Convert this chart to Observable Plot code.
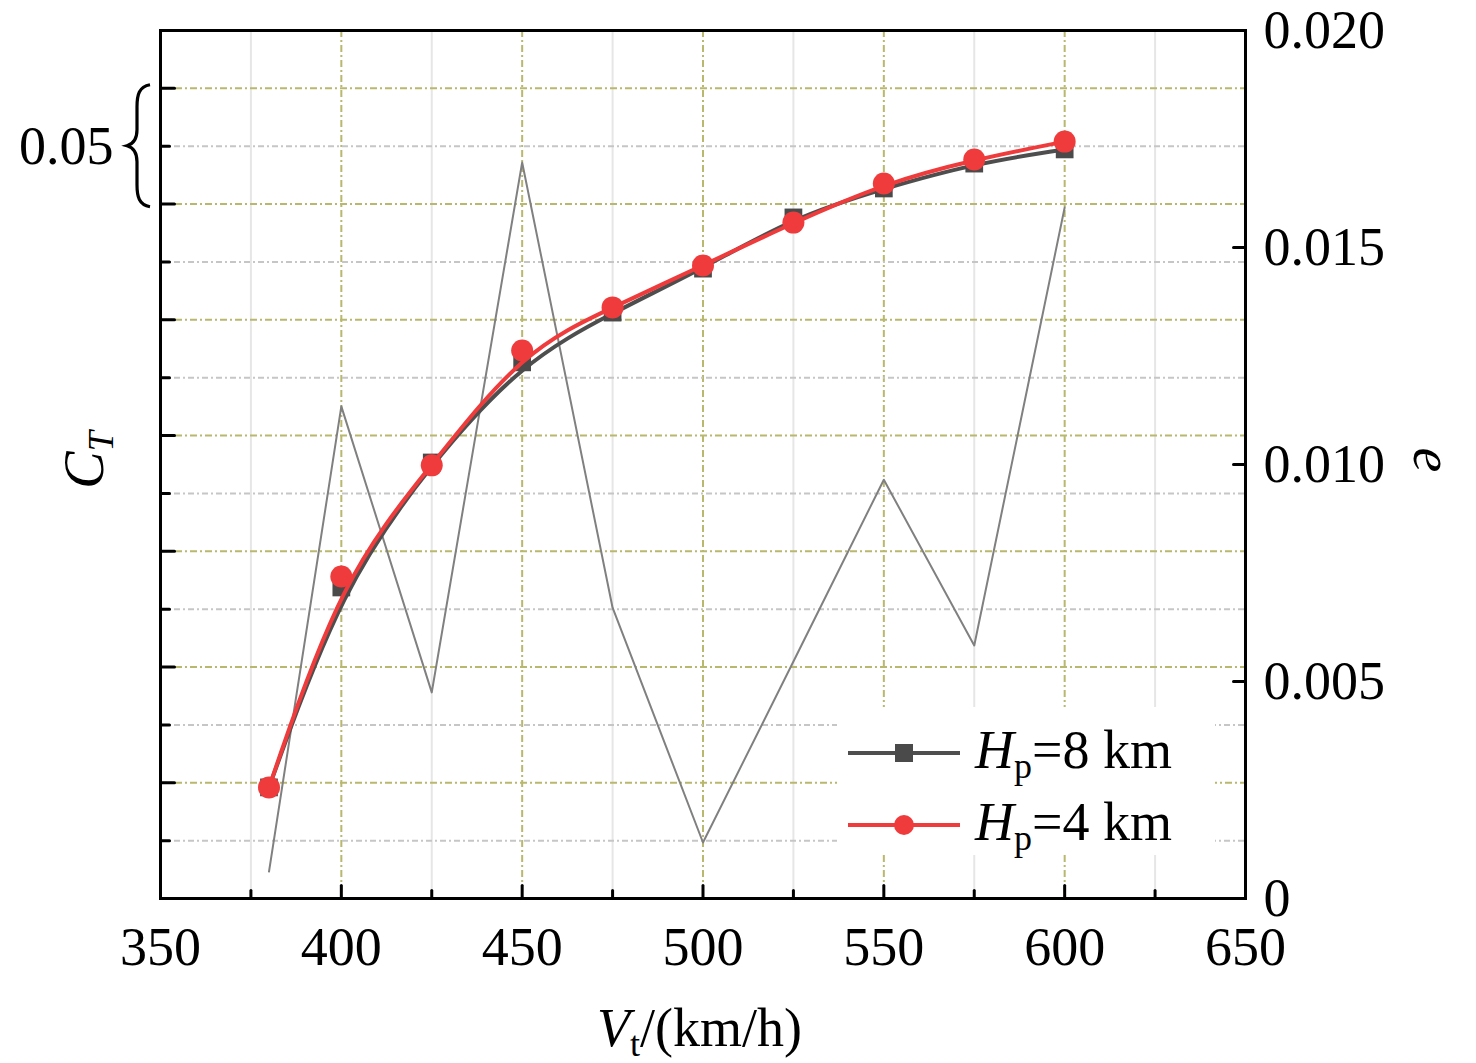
<!DOCTYPE html>
<html>
<head>
<meta charset="utf-8">
<script src="https://cdn.jsdelivr.net/npm/d3@7"></script>
<script src="https://cdn.jsdelivr.net/npm/@observablehq/plot@0.6"></script>
<style>
  html, body { margin: 0; padding: 0; background: #fff; }
  svg { display: block; }
</style>
</head>
<body>
<div id="chart"></div>
<script>
// ---- data ----
const speeds = [380, 400, 425, 450, 475, 500, 525, 550, 575, 600];          // V_t (km/h)
const ctHp8  = [0.02784, 0.03475, 0.03907, 0.04253, 0.04425, 0.04577, 0.04754, 0.04854, 0.04940, 0.04989];
const ctHp4  = [0.02784, 0.03513, 0.03897, 0.04294, 0.04443, 0.04588, 0.04736, 0.04871, 0.04954, 0.05016];
const errE   = [0.00062, 0.01134, 0.00475, 0.01696, 0.00670, 0.00129, 0.00546, 0.00965, 0.00583, 0.01592];

const xTickValues   = [350, 400, 450, 500, 550, 600, 650];
const xMinorValues  = [375, 425, 475, 525, 575, 625];
const eTickValues   = [0, 0.005, 0.010, 0.015, 0.020];
const ctMajorValues = [0.028, 0.032, 0.036, 0.040, 0.044, 0.048, 0.052];
const ctMinorValues = [0.026, 0.030, 0.034, 0.038, 0.042, 0.046, 0.050];
const ctLabelValues = [0.05];
const ctDomain = [0.024, 0.054];
const eDomain  = [0, 0.020];
const seriesAltitudes = ["8 km", "4 km"];

// ---- styles ----
const SERIF = "'Liberation Serif', 'Times New Roman', Times, serif";
const FS = 54;
const colGray = "#4e4e4e";
const colRed  = "#ef3b3b";
const colErr  = "#808080";
const colYellowGrid = "#b8b86e";
const colGrayGrid   = "#c6c6c6";

// map e (right axis) onto the C_T (left) scale
const toCT = e => ctDomain[0] + (e - eDomain[0]) * (ctDomain[1] - ctDomain[0]) / (eDomain[1] - eDomain[0]);

const rows8 = speeds.map((v, i) => ({v, ct: ctHp8[i]}));
const rows4 = speeds.map((v, i) => ({v, ct: ctHp4[i]}));
const rowsE = speeds.map((v, i) => ({v, e: errE[i]}));

const tickShape = {draw(ctx, l) { ctx.moveTo(0, 0); ctx.lineTo(0, -l); }};
const inner = arr => arr.slice(1, -1);

const chart = Plot.plot({
  width: 1476,
  height: 1063,
  marginTop: 30,
  marginRight: 231,
  marginBottom: 165,
  marginLeft: 160,
  style: {fontFamily: SERIF, fontSize: FS + "px", background: "#fff", color: "#000"},
  x: {domain: [350, 650], axis: null},
  y: {domain: ctDomain, axis: null},
  marks: [
    // grid
    Plot.ruleX(xMinorValues, {stroke: "#e6e6e6", strokeWidth: 2}),
    Plot.ruleX(inner(xTickValues), {stroke: colYellowGrid, strokeWidth: 2, strokeDasharray: "7,3,2,3"}),
    Plot.ruleY(ctMinorValues, {stroke: colGrayGrid, strokeWidth: 2, strokeDasharray: "6,3,2,3"}),
    Plot.ruleY(ctMajorValues, {stroke: colYellowGrid, strokeWidth: 2, strokeDasharray: "7,3,2,3"}),
    // e series (right axis)
    Plot.line(rowsE, {x: "v", y: d => toCT(d.e), stroke: colErr, strokeWidth: 2}),
    // C_T series (B-spline through the points)
    Plot.line(rows8, {x: "v", y: "ct", stroke: colGray, strokeWidth: 4, curve: "basis"}),
    Plot.dot(rows8, {x: "v", y: "ct", symbol: "square", r: 10, fill: "#4a4a4a", stroke: "none"}),
    Plot.line(rows4, {x: "v", y: "ct", stroke: colRed, strokeWidth: 4, curve: "basis"}),
    Plot.dot(rows4, {x: "v", y: "ct", symbol: "circle", r: 11, fill: colRed, stroke: "none"}),
    // frame
    Plot.frame({stroke: "#000", strokeWidth: 3}),
    // inward ticks: bottom
    Plot.vector(inner(xTickValues), {x: d => d, frameAnchor: "bottom", length: 13, rotate: 0, anchor: "start", shape: tickShape, stroke: "#000", strokeWidth: 3}),
    Plot.vector(xMinorValues, {x: d => d, frameAnchor: "bottom", length: 8, rotate: 0, anchor: "start", shape: tickShape, stroke: "#000", strokeWidth: 3}),
    // inward ticks: left
    Plot.vector(ctMajorValues, {y: d => d, frameAnchor: "left", length: 14, rotate: 90, anchor: "start", shape: tickShape, stroke: "#000", strokeWidth: 3}),
    Plot.vector(ctMinorValues, {y: d => d, frameAnchor: "left", length: 9, rotate: 90, anchor: "start", shape: tickShape, stroke: "#000", strokeWidth: 3}),
    // inward ticks: right (e)
    Plot.vector(inner(eTickValues), {y: d => toCT(d), frameAnchor: "right", length: 12, rotate: -90, anchor: "start", shape: tickShape, stroke: "#000", strokeWidth: 3}),
    // tick labels
    Plot.text(xTickValues, {x: d => d, frameAnchor: "bottom", lineAnchor: "middle", dy: 49, text: d => String(d), fontSize: FS, fill: "#000"}),
    Plot.text(eTickValues, {y: d => toCT(d), frameAnchor: "right", lineAnchor: "middle", dx: 18, textAnchor: "start", text: d => d === 0 ? "0" : d.toFixed(3), fontSize: FS, fill: "#000"}),
    Plot.text(ctLabelValues, {y: d => d, frameAnchor: "left", lineAnchor: "middle", dx: -47, textAnchor: "end", text: d => String(d), fontSize: FS, fill: "#000"})
  ]
});

document.getElementById("chart").appendChild(chart);

// ---- decorations: brace, axis titles, legend ----
const svg = d3.select(chart);
const xs = chart.scale("x");
const ys = chart.scale("y");

// brace next to the 0.05 label
const yb = ys.apply(ctLabelValues[0]);
const bx = 127;
svg.append("path")
  .attr("d", `M${bx+23},${yb-61} C${bx+12},${yb-59} ${bx+10},${yb-51} ${bx+10},${yb-39} L${bx+10},${yb-16} C${bx+10},${yb-7} ${bx+7},${yb-2} ${bx},${yb} C${bx+7},${yb+2} ${bx+10},${yb+7} ${bx+10},${yb+16} L${bx+10},${yb+39} C${bx+10},${yb+51} ${bx+12},${yb+59} ${bx+23},${yb+61}`)
  .attr("fill", "none").attr("stroke", "#000").attr("stroke-width", 3.2);

// x title
const xMid = (xs.apply(350) + xs.apply(650)) / 2 - 3;
const tx = svg.append("text").attr("x", xMid).attr("y", 1046)
  .attr("text-anchor", "middle").attr("font-family", SERIF).attr("font-size", FS).attr("fill", "#000");
tx.append("tspan").attr("font-style", "italic").text("V");
tx.append("tspan").attr("font-size", 36).attr("dy", 10).text("t");
tx.append("tspan").attr("dy", -10).text("/(km/h)");

// left title C_T
const yMid = (ys.apply(ctDomain[0]) + ys.apply(ctDomain[1])) / 2 - 4;
const ty = svg.append("text").attr("transform", `translate(103,${yMid}) rotate(-90)`)
  .attr("text-anchor", "middle").attr("font-family", SERIF).attr("font-size", FS + 2).attr("fill", "#000");
ty.append("tspan").attr("font-style", "italic").text("C");
ty.append("tspan").attr("font-style", "italic").attr("font-size", 36).attr("dy", 10).text("T");

// right title e
svg.append("text").attr("transform", `translate(1414,${yMid}) rotate(90)`)
  .attr("text-anchor", "middle").attr("font-family", SERIF).attr("font-size", FS + 2)
  .attr("font-style", "italic").attr("fill", "#000").text("e");

// legend
const lg = svg.append("g");
lg.append("rect").attr("x", 837).attr("y", 707).attr("width", 378).attr("height", 148).attr("fill", "#fff");
const legendRows = [
  {label: seriesAltitudes[0], color: colGray, fill: "#4a4a4a", symbol: "square", y: 753},
  {label: seriesAltitudes[1], color: colRed, fill: colRed, symbol: "circle", y: 825}
];
legendRows.forEach(r => {
  lg.append("line").attr("x1", 848).attr("x2", 960).attr("y1", r.y).attr("y2", r.y)
    .attr("stroke", r.color).attr("stroke-width", 4);
  if (r.symbol === "square") {
    lg.append("rect").attr("x", 904 - 9).attr("y", r.y - 9).attr("width", 18).attr("height", 18).attr("fill", r.fill);
  } else {
    lg.append("circle").attr("cx", 904).attr("cy", r.y).attr("r", 10).attr("fill", r.fill);
  }
  const t = lg.append("text").attr("x", 975).attr("y", r.y + 15).attr("text-anchor", "start")
    .attr("font-family", SERIF).attr("font-size", FS).attr("fill", "#000");
  t.append("tspan").attr("font-style", "italic").text("H");
  t.append("tspan").attr("font-size", 36).attr("dy", 10).text("p");
  t.append("tspan").attr("dy", -10).text("=" + r.label);
});
</script>
</body>
</html>
